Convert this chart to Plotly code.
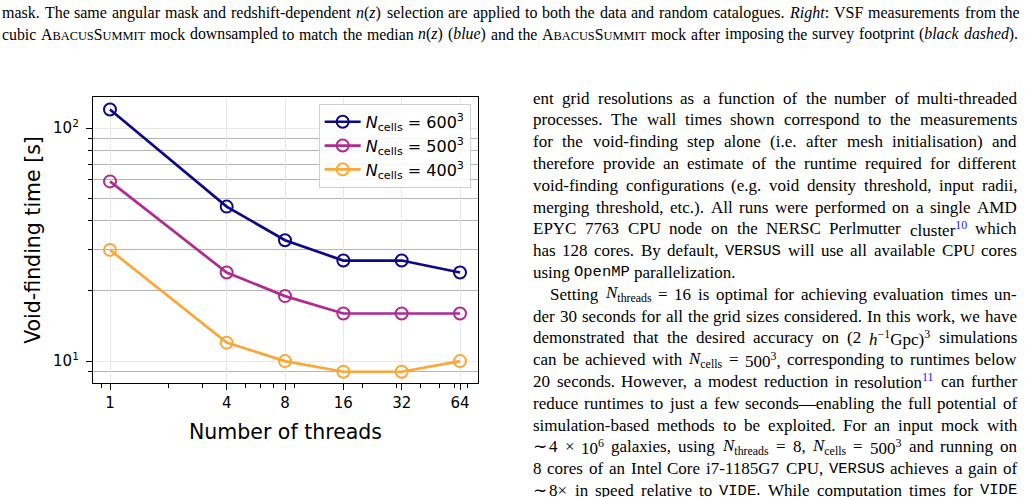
import plotly.graph_objects as go

# ---------------- data ----------------
threads = [1, 4, 8, 16, 32, 64]
time_600 = [120, 46, 33, 27, 27, 24]
time_500 = [59, 24, 19, 16, 16, 16]
time_400 = [30, 12, 10, 9, 9, 10]
series_names = [
    "<i>N</i><sub>cells</sub> = 600<sup>3</sup>",
    "<i>N</i><sub>cells</sub> = 500<sup>3</sup>",
    "<i>N</i><sub>cells</sub> = 400<sup>3</sup>",
]
series_colors = ["#0d0887", "#b12a90", "#fca636"]
x_tickvals = [1, 4, 8, 16, 32, 64]
x_ticktext = ["1", "4", "8", "16", "32", "64"]
x_minor = [0.9, 2, 3, 5, 6, 7, 9, 20, 30, 40, 50, 60, 70]
y_tickvals = [10, 100]
y_ticktext = ["10<sup>1</sup>", "10<sup>2</sup>"]
y_minor = [9, 20, 30, 40, 50, 60, 70, 80, 90]

caption_lines = [
    "mask. The same angular mask and redshift-dependent *{n}(*{z}) selection are applied to both the data and random catalogues. *{Right}: VSF measurements from the",
    "cubic #{ABACUS}#{SUMMIT} mock downsampled to match the median *{n}(*{z}) (*{blue}) and the #{ABACUS}#{SUMMIT} mock after imposing the survey footprint (*{black} *{dashed}).",
]
body_lines = [
    "ent grid resolutions as a function of the number of multi-threaded",
    "processes. The wall times shown correspond to the measurements",
    "for the void-finding step alone (i.e. after mesh initialisation) and",
    "therefore provide an estimate of the runtime required for different",
    "void-finding configurations (e.g. void density threshold, input radii,",
    "merging threshold, etc.). All runs were performed on a single AMD",
    "EPYC 7763 CPU node on the NERSC Perlmutter cluster%{10} which",
    "has 128 cores. By default, @{VERSUS} will use all available CPU cores",
    "using @{OpenMP} parallelization.",
    "Setting *{N}_{threads} = 16 is optimal for achieving evaluation times un-",
    "der 30 seconds for all the grid sizes considered. In this work, we have",
    "demonstrated that the desired accuracy on (2 *{h}^{−1}Gpc)^{3} simulations",
    "can be achieved with *{N}_{cells} = 500^{3}, corresponding to runtimes below",
    "20 seconds. However, a modest reduction in resolution%{11} can further",
    "reduce runtimes to just a few seconds—enabling the full potential of",
    "simulation-based methods to be exploited. For an input mock with",
    "∼ 4 × 10^{6} galaxies, using *{N}_{threads} = 8, *{N}_{cells} = 500^{3} and running on",
    "8 cores of an Intel Core i7-1185G7 CPU, @{VERSUS} achieves a gain of",
    "∼ 8× in speed relative to @{VIDE}. While computation times for @{VIDE}",
]
body_justify = [True] * 8 + [False] + [True] * 10
body_indent = [0] * 9 + [17] + [0] * 9

# ---------------- layout constants ----------------
W, H = 1026, 497
L, R, T, B = 93, 478, 97, 383

TW = {' ': 250, '!': 333, '(': 333, ')': 333, ',': 250, '-': 333, '.': 250, '/': 278,
      ':': 278, ';': 278, '=': 564, '[': 333, ']': 333, '—': 1000, '−': 564, '×': 564,
      '∼': 541, '~': 541,
      'A': 722, 'B': 667, 'C': 667, 'D': 722, 'E': 611, 'F': 556, 'G': 722, 'H': 722,
      'I': 333, 'J': 389, 'K': 722, 'L': 611, 'M': 889, 'N': 722, 'O': 722, 'P': 556,
      'Q': 722, 'R': 667, 'S': 556, 'T': 611, 'U': 722, 'V': 722, 'W': 944, 'X': 722,
      'Y': 722, 'Z': 611,
      'a': 444, 'b': 500, 'c': 444, 'd': 500, 'e': 444, 'f': 333, 'g': 500, 'h': 500,
      'i': 278, 'j': 278, 'k': 500, 'l': 278, 'm': 778, 'n': 500, 'o': 500, 'p': 500,
      'q': 500, 'r': 333, 's': 389, 't': 278, 'u': 500, 'v': 500, 'w': 722, 'x': 500,
      'y': 500, 'z': 444}


def cw(s):
    return sum(TW.get(c, 500) for c in s) / 1000.0


def parse(token, fs, mono_fs):
    html, w, i = "", 0.0, 0
    while i < len(token):
        c = token[i]
        if c in "_^%@*#" and i + 1 < len(token) and token[i + 1] == "{":
            j = token.index("}", i)
            s = token[i + 2:j]
            if c == "_":
                html += "<sub>%s</sub>" % s
                w += 0.7 * cw(s) * fs
            elif c == "^":
                html += "<sup>%s</sup>" % s
                w += 0.7 * cw(s) * fs
            elif c == "%":
                html += '<sup><span style="color:#1a1aff">%s</span></sup>' % s
                w += 0.7 * cw(s) * fs
            elif c == "@":
                html += '<span style="font-family:Liberation Mono;font-size:%.1fpx">%s</span>' % (mono_fs, s)
                w += 0.6 * len(s) * mono_fs
            elif c == "*":
                html += "<i>%s</i>" % s
                w += cw(s) * fs
            elif c == "#":
                html += '%s<span style="font-size:%.1fpx">%s</span>' % (s[0], 0.78 * fs, s[1:])
                w += cw(s[0]) * fs + 0.78 * cw(s[1:]) * fs
            i = j + 1
        else:
            html += c
            w += cw(c) * fs
            i += 1
    return html, w


def px2paper(x, y):
    return (x - L) / (R - L), 1 - (y - T) / (B - T)


annotations = []


def set_line(line, x0, x1, yc, fs, mono_fs, justify, color="black"):
    words = line.split(" ")
    parsed = [parse(wd, fs, mono_fs) for wd in words]
    total = sum(p[1] for p in parsed)
    if justify and len(parsed) > 1:
        gap = (x1 - x0 - total) / (len(parsed) - 1)
    else:
        gap = 0.25 * fs
    x = x0
    for html, w in parsed:
        px, py = px2paper(x, yc)
        annotations.append(dict(
            x=px, y=py, xref="paper", yref="paper", text=html, showarrow=False,
            xanchor="left", yanchor="middle", borderpad=0,
            font=dict(family="Liberation Serif", size=fs, color=color)))
        x += w + gap


# caption (two justified lines across the page)
for k, line in enumerate(caption_lines):
    nat = sum(parse(wd, 1.0, 0.6)[1] for wd in line.split(" "))
    nat += 0.25 * (len(line.split(" ")) - 1)
    fs = min(16.0, 1016 / nat * 0.985)
    set_line(line, 1, 1019 if k == 0 else 1016, 13 + 21 * k, fs, fs * 0.9, True)

# body text column
for k, line in enumerate(body_lines):
    yc = 98 + 21.8 * k
    set_line(line, 532 + body_indent[k], 1016, yc, 17, 15.5, body_justify[k])

# ---------------- figure ----------------
fig = go.Figure()
for vals, name, col in zip([time_600, time_500, time_400], series_names, series_colors):
    fig.add_trace(go.Scatter(
        x=threads, y=vals, name=name, mode="lines+markers",
        line=dict(color=col, width=2.7),
        marker=dict(symbol="circle-open", size=12, color=col, line=dict(width=2, color=col)),
    ))

fig.update_layout(
    width=W, height=H,
    margin=dict(l=L, r=W - R, t=T, b=H - B, pad=0),
    paper_bgcolor="white", plot_bgcolor="white",
    font=dict(family="DejaVu Sans", color="black", size=15),
    showlegend=True,
    legend=dict(
        x=0.981, y=0.976, xanchor="right", yanchor="top",
        bgcolor="rgba(255,255,255,0.85)", bordercolor="#d0d0d0", borderwidth=1,
        font=dict(family="DejaVu Sans", size=16, color="black"),
        tracegroupgap=0, itemwidth=36,
    ),
    annotations=annotations,
)

fig.update_xaxes(
    type="log", range=[-0.0877, 1.899],
    tickmode="array", tickvals=x_tickvals, ticktext=x_ticktext,
    ticks="outside", ticklen=6, tickwidth=1, tickcolor="black",
    showline=True, linecolor="black", linewidth=1.3, mirror=True,
    showgrid=True, gridcolor="#e8e8e8", gridwidth=1.2, zeroline=False,
    tickfont=dict(size=15),
    title=dict(text="Number of threads", font=dict(size=20.5), standoff=13),
    minor=dict(tickmode="array", tickvals=x_minor, ticks="outside", ticklen=3.5,
               tickcolor="black", tickwidth=1, showgrid=False),
)
fig.update_yaxes(
    type="log", range=[0.906, 2.133],
    tickmode="array", tickvals=y_tickvals, ticktext=y_ticktext,
    ticks="outside", ticklen=6, tickwidth=1, tickcolor="black",
    showline=True, linecolor="black", linewidth=1.3, mirror=True,
    showgrid=True, gridcolor="#e8e8e8", gridwidth=1.2, zeroline=False,
    tickfont=dict(size=15), ticklabelstandoff=4,
    title=dict(text="Void-finding time [s]", font=dict(size=20.5), standoff=6),
    minor=dict(tickmode="array", tickvals=y_minor, ticks="outside", ticklen=3.5,
               tickcolor="black", tickwidth=1, showgrid=True, gridcolor="#b4b4b4", gridwidth=1),
)

fig.write_html("out.html")
